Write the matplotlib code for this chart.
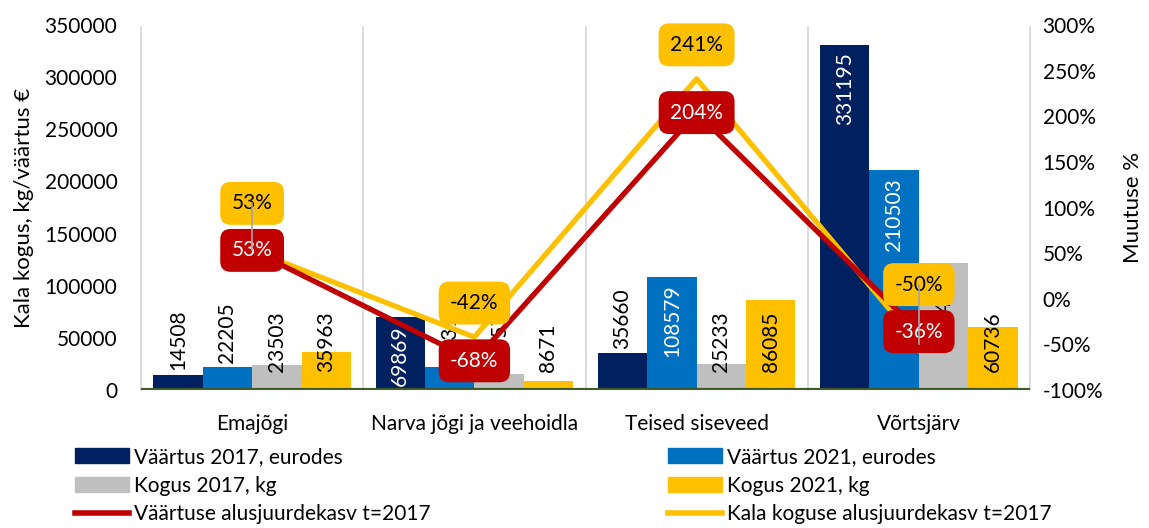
import numpy as np
import matplotlib
matplotlib.use("Agg")
import matplotlib.pyplot as plt
from matplotlib.patches import Patch
from matplotlib.lines import Line2D

plt.rcParams['font.family'] = ['Lato', 'DejaVu Sans']

categories = ["Emajõgi", "Narva jõgi ja veehoidla", "Teised siseveed", "Võrtsjärv"]
vaartus_2017 = [14508, 69869, 35660, 331195]
vaartus_2021 = [22205, 22399, 108579, 210503]
kogus_2017 = [23503, 14957, 25233, 121447]
kogus_2021 = [35963, 8671, 86085, 60736]
vaartus_kasv = [53, -68, 204, -36]
kogus_kasv = [53, -42, 241, -50]

bar_names = ["Väärtus 2017, eurodes", "Väärtus 2021, eurodes", "Kogus 2017, kg", "Kogus 2021, kg"]
line_names = ["Väärtuse alusjuurdekasv t=2017", "Kala koguse alusjuurdekasv t=2017"]

NAVY = "#002060"
BLUE = "#0070C0"
GREY = "#BFBFBF"
YELLOW = "#FFC000"
RED = "#C00000"
FS = 15

fig = plt.figure(figsize=(11.49, 5.28), dpi=100)
ax = fig.add_axes([141 / 1149, 1 - 390 / 528, (1030 - 141) / 1149, (390 - 25) / 528])
ax2 = ax.twinx()

x = np.arange(len(categories))
w = 1 / 4.5
ax.set_xlim(-0.5, len(categories) - 0.5)
ax.set_ylim(0, 350000)
ax2.set_ylim(-100, 300)

px = 350000 / 365.0  # data units per pixel on left axis

series = [(vaartus_2017, NAVY, "auto", "white"),
          (vaartus_2021, BLUE, "auto", "white"),
          (kogus_2017, GREY, "inside", "black"),
          (kogus_2021, YELLOW, "inside", "black")]

for j, (vals, col, mode, incol) in enumerate(series):
    xs = x + (j - 1.5) * w
    ax.bar(xs, vals, width=w, color=col, zorder=2)
    for xi, v in zip(xs, vals):
        txt = str(v)
        L = len(txt) * 11.7 * px
        if mode == "auto":
            if v > L + 10 * px:
                ax.text(xi, v - 8 * px, txt, rotation=90, ha="center", va="top",
                        color=incol, fontsize=FS, zorder=3)
            else:
                yb = max(v + 4 * px, 20 * px)
                ax.text(xi, yb, txt, rotation=90, ha="center", va="bottom",
                        color="black", fontsize=FS, zorder=3)
        else:
            yb = max(v - 13 * px - L, 18 * px)
            ax.text(xi, yb, txt, rotation=90, ha="center", va="bottom",
                    color="black", fontsize=FS, zorder=3)

# vertical gridlines between categories
for b in np.arange(-0.5, len(categories), 1.0):
    ax.plot([b, b], [0, 348000], color="#D9D9D9", lw=1.3, zorder=1, clip_on=False)

ax.axhline(0, color="#3D5C2A", lw=3, zorder=4)

# growth lines on secondary axis
ax2.plot(x, kogus_kasv, color=YELLOW, lw=3.8, zorder=5)
ax2.plot(x, vaartus_kasv, color=RED, lw=3.8, zorder=5)

ppx = 400 / 365.0  # % per pixel on right axis
box_kw = dict(boxstyle="round,pad=0.55,rounding_size=0.5")
for xi, vr, vy in zip(x, vaartus_kasv, kogus_kasv):
    ax2.text(xi, vr, f"{vr}%", ha="center", va="center", color="white", fontsize=FS,
             zorder=8, bbox=dict(fc=RED, ec="none", **box_kw))
    yy = vy + 34 * ppx
    if abs(yy - vr) < 45 * ppx:
        yy = vr + 47 * ppx
        ax2.plot([xi, xi], [vy, yy], color="#A6A6A6", lw=1.2, zorder=9)
    ax2.text(xi, yy, f"{vy}%", ha="center", va="center", color="black", fontsize=FS,
             zorder=8, bbox=dict(fc=YELLOW, ec="none", **box_kw))

ax.set_xticks(x)
ax.set_xticklabels(categories, fontsize=FS)
ax.set_yticks(np.arange(0, 350001, 50000))
ax.set_yticklabels([str(v) for v in range(0, 350001, 50000)], fontsize=FS)
ax2.set_yticks(np.arange(-100, 301, 50))
ax2.set_yticklabels([f"{v}%" for v in range(-100, 301, 50)], fontsize=FS)
ax.tick_params(axis="x", length=0, pad=17)
ax.tick_params(axis="y", length=0, pad=17)
ax2.tick_params(axis="y", length=0, pad=9)
for a in (ax, ax2):
    for s in a.spines.values():
        s.set_visible(False)

ax.set_ylabel("Kala kogus, kg/väärtus €", fontsize=FS + 1, labelpad=8)
ax2.set_ylabel("Muutuse %", fontsize=FS + 1, labelpad=14)

# legend in two columns below the chart
h_left = [Patch(color=NAVY), Patch(color=GREY), Line2D([], [], color=RED, lw=4)]
h_right = [Patch(color=BLUE), Patch(color=YELLOW), Line2D([], [], color=YELLOW, lw=4)]
lab_left = [bar_names[0], bar_names[2], line_names[0]]
lab_right = [bar_names[1], bar_names[3], line_names[1]]
for hs, ls, x0 in ((h_left, lab_left, 75), (h_right, lab_right, 668)):
    fig.legend(hs, ls, loc="upper left", bbox_to_anchor=(x0 / 1149, 1 - 447 / 528),
               frameon=False, fontsize=FS, handlelength=2.6, handleheight=0.7,
               handletextpad=0.25, labelspacing=0.42, borderpad=0, borderaxespad=0)

fig.savefig("out.png", dpi=100)
